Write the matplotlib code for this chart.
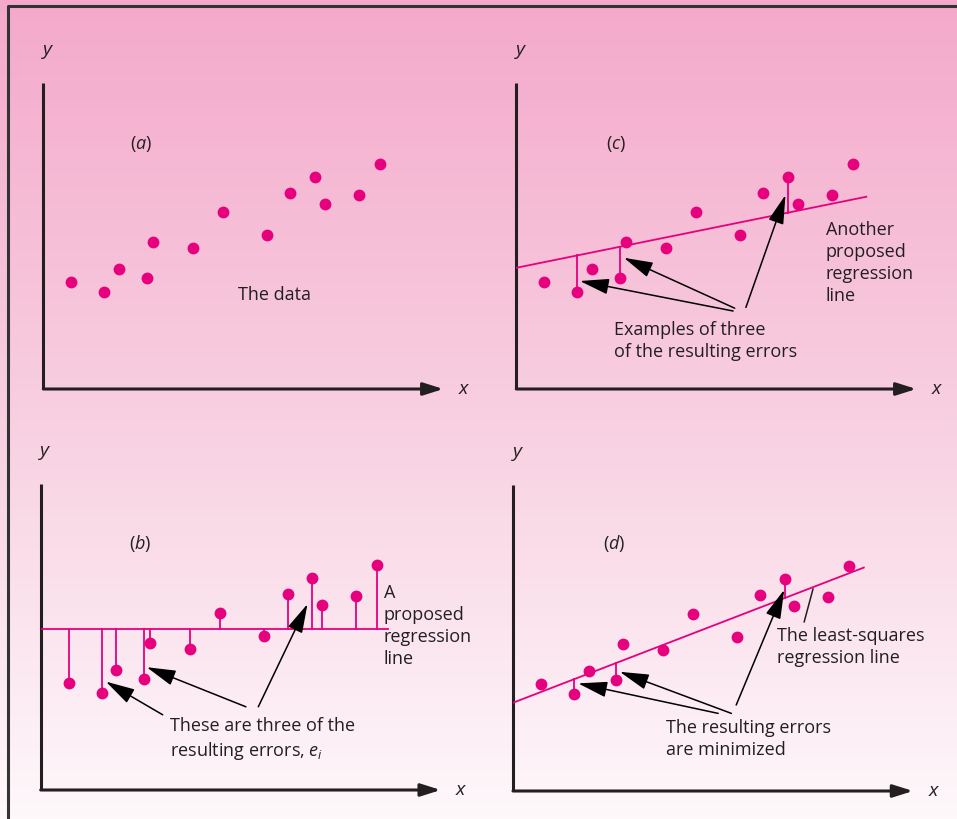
import numpy as np
import matplotlib.pyplot as plt
from matplotlib.colors import LinearSegmentedColormap

plt.rcParams['font.family'] = ['Open Sans', 'DejaVu Sans']
plt.rcParams['mathtext.fontset'] = 'custom'
plt.rcParams['mathtext.rm'] = 'Open Sans'
plt.rcParams['mathtext.it'] = 'Open Sans:italic'

# data (same scatter in all four panels)
xs = [0.70, 1.52, 1.89, 2.58, 2.74, 3.74, 4.49, 5.59, 6.17, 6.79, 7.03, 7.88, 8.41]
ys = [2.68, 2.42, 3.00, 2.78, 3.67, 3.52, 4.42, 3.85, 4.89, 5.30, 4.62, 4.84, 5.63]

b_level = 4.03          # flat proposed line in (b)
c_line = (3.03, 0.203)  # intercept, slope of other proposed line in (c)
line_end = 8.75
err_idx = [1, 3, 9]     # the three highlighted errors

pink = '#E6007E'
ink = '#231F20'

W, H = 957, 819
fig = plt.figure(figsize=(W / 100, H / 100), dpi=100)

# background gradient + frame
bg = fig.add_axes([0, 0, 1, 1])
grad = np.linspace(0, 1, 256).reshape(-1, 1)
cmap = LinearSegmentedColormap.from_list('bg', ['#F4A9CB', '#F8CFE0', '#FEF8FB'])
bg.imshow(grad, aspect='auto', cmap=cmap, extent=[0, W, H, 0])
bg.plot([8, 8, W], [H, 6, 6], color='#333333', lw=2.2)
bg.set_xlim(0, W)
bg.set_ylim(H, 0)
bg.axis('off')

origins = {'a': (43.3, 389), 'c': (516.3, 389), 'b': (40.7, 790), 'd': (513, 791)}
scale = 40.0
xmax, ymax = 10.0, 7.65


def panel(key):
    ox, oy = origins[key]
    ax = fig.add_axes([ox / W, (H - oy) / H, xmax * scale / W, ymax * scale / H])
    ax.set_xlim(0, xmax)
    ax.set_ylim(0, ymax)
    ax.axis('off')
    ax.plot([0, 0], [0, ymax], color=ink, lw=2.2, solid_capstyle='butt', clip_on=False)
    ax.annotate('', xy=(xmax, 0), xytext=(0, 0),
                arrowprops=dict(arrowstyle='-|>,head_length=1.2,head_width=0.38',
                                color=ink, lw=2.2, shrinkA=0, shrinkB=0),
                annotation_clip=False)
    ax.text(0.1, 8.48, 'y', style='italic', fontsize=14, color=ink, ha='center', va='center')
    ax.text(10.5, 0.0, 'x', style='italic', fontsize=14, color=ink, ha='center', va='center')
    return ax


def arrow(ax, tail, head):
    ax.annotate('', xy=head, xytext=tail,
                arrowprops=dict(arrowstyle='-|>,head_length=1.0,head_width=0.27',
                                color='black', lw=1.1, shrinkA=0, shrinkB=0,
                                mutation_scale=18),
                annotation_clip=False)


def dots(ax):
    ax.plot(xs, ys, 'o', color=pink, ms=8.5, mec='none', zorder=5, clip_on=False)


tfs = 13
ls = 1.3

# (a)
ax = panel('a')
dots(ax)
ax.text(2.44, 6.13, '($a$)', fontsize=tfs, color=ink, ha='center', va='center')
ax.text(5.79, 2.35, 'The data', fontsize=tfs, color=ink, ha='center', va='center')

# (b)
ax = panel('b')
ax.plot([0, 8.69], [b_level, b_level], color=pink, lw=1.3)
for x, y in zip(xs, ys):
    ax.plot([x, x], [b_level, y], color=pink, lw=1.3)
dots(ax)
ax.text(2.48, 6.17, '($b$)', fontsize=tfs, color=ink, ha='center', va='center')
ax.text(8.57, 4.1, 'A\nproposed\nregression\nline', fontsize=tfs, color=ink,
        ha='left', va='center', linespacing=ls)
ax.text(3.23, 1.27, 'These are three of the\nresulting errors, $e_i$', fontsize=tfs,
        color=ink, ha='left', va='center', linespacing=ls)
arrow(ax, (3.05, 1.88), (1.63, 2.71))
arrow(ax, (5.13, 2.08), (2.65, 3.07))
arrow(ax, (5.44, 2.08), (6.67, 4.65))

# (c)
ax = panel('c')
c0, c1 = c_line
ax.plot([0, line_end], [c0, c0 + c1 * line_end], color=pink, lw=1.3)
for i in err_idx:
    ax.plot([xs[i], xs[i]], [c0 + c1 * xs[i], ys[i]], color=pink, lw=1.3)
dots(ax)
ax.text(2.5, 6.13, '($c$)', fontsize=tfs, color=ink, ha='center', va='center')
ax.text(7.73, 3.15, 'Another\nproposed\nregression\nline', fontsize=tfs, color=ink,
        ha='left', va='center', linespacing=ls)
ax.text(2.44, 1.2, 'Examples of three\nof the resulting errors', fontsize=tfs,
        color=ink, ha='left', va='center', linespacing=ls)
arrow(ax, (5.42, 1.95), (1.59, 2.7))
arrow(ax, (5.46, 2.02), (2.69, 3.28))
arrow(ax, (5.74, 2.04), (6.73, 4.85))

# (d)
ax = panel('d')
d1, d0 = np.polyfit(xs, ys, 1)
ax.plot([0, 8.77], [d0, d0 + d1 * 8.77], color=pink, lw=1.3)
for i in err_idx:
    ax.plot([xs[i], xs[i]], [d0 + d1 * xs[i], ys[i]], color=pink, lw=1.3)
dots(ax)
ax.text(2.54, 6.19, '($d$)', fontsize=tfs, color=ink, ha='center', va='center')
ax.plot([7.28, 7.5], [4.23, 5.05], color=ink, lw=1.1)
ax.text(6.6, 3.6, 'The least-squares\nregression line', fontsize=tfs, color=ink,
        ha='left', va='center', linespacing=ls)
ax.text(3.83, 1.3, 'The resulting errors\nare minimized', fontsize=tfs, color=ink,
        ha='left', va='center', linespacing=ls)
arrow(ax, (5.13, 1.94), (1.63, 2.69))
arrow(ax, (5.46, 1.94), (2.67, 2.98))
arrow(ax, (5.58, 2.15), (6.78, 5.03))

fig.savefig('out.png', dpi=100)
